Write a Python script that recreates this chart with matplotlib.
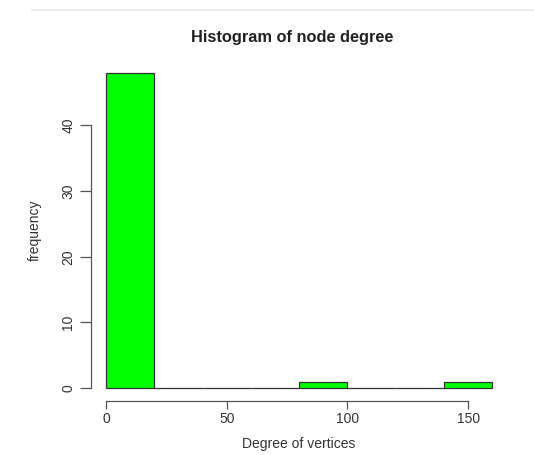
import numpy as np
import matplotlib.pyplot as plt
from matplotlib.lines import Line2D

plt.rcParams['font.family'] = ['Liberation Sans', 'DejaVu Sans']

# histogram of node degree (bins of width 20)
bin_edges = np.array([0, 20, 40, 60, 80, 100, 120, 140, 160])
counts = np.array([48, 0, 0, 0, 1, 0, 0, 1])
x_ticks = [0, 50, 100, 150]
y_ticks = [0, 10, 20, 30, 40]

fig = plt.figure(figsize=(5.34, 4.55), dpi=100)
ax = fig.add_axes([0.1697, 0.1190, 0.781, 0.749])

ax.bar(bin_edges[:-1], counts, width=np.diff(bin_edges), align='edge',
       color='#00ff00', edgecolor='#333333', linewidth=0.9)

ax.set_xlim(-6.4, 166.4)
ax.set_ylim(-1.92, 49.92)

for s in ['top', 'right']:
    ax.spines[s].set_visible(False)
ax.spines['left'].set_bounds(0, 40)
ax.spines['bottom'].set_bounds(0, 150)
for s in ['left', 'bottom']:
    ax.spines[s].set_color('#555555')
    ax.spines[s].set_linewidth(0.9)

ax.set_xticks(x_ticks)
ax.set_yticks(y_ticks)
ax.tick_params(length=6, width=0.9, color='#555555', labelcolor='#333333', labelsize=10, pad=2)
ax.tick_params(axis='y', length=8, pad=3)
plt.setp(ax.get_yticklabels(), rotation=90, va='center')

ax.set_xlabel('Degree of vertices', fontsize=10, color='#333333', labelpad=8)
ax.set_ylabel('frequency', fontsize=10, color='#333333', labelpad=14)
fig.text(0.547, 0.918, 'Histogram of node degree', ha='center', va='center',
         fontsize=11.8, fontweight='bold', color='#222222')

# faint line at top of the screenshot
fig.add_artist(Line2D([0.06, 1.0], [0.978, 0.978], transform=fig.transFigure,
                      color='#eeeeee', linewidth=1.5))

fig.savefig('out.png', dpi=100)
